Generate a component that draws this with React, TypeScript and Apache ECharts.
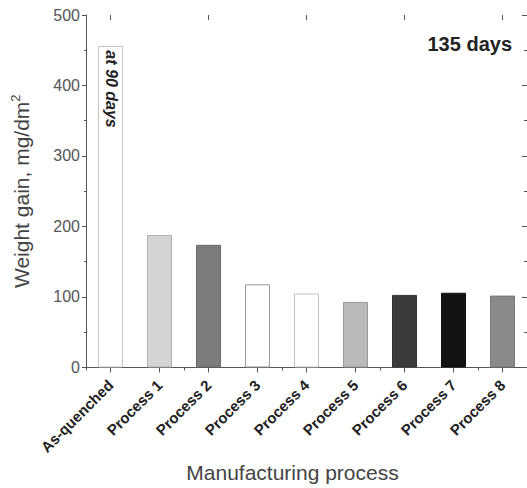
import React, { useEffect, useRef } from "react";
import * as echarts from "echarts";

const categories = [
  "As-quenched",
  "Process 1",
  "Process 2",
  "Process 3",
  "Process 4",
  "Process 5",
  "Process 6",
  "Process 7",
  "Process 8",
];
const weightGain = [456, 188, 174, 118, 105, 93, 103, 106, 102];
const barFill = ["#ffffff", "#d4d4d4", "#7c7c7c", "#ffffff", "#ffffff", "#b9b9b9", "#3b3b3b", "#121212", "#8a8a8a"];
const barBorder = ["#c4c4c4", "#b0b0b0", "#6a6a6a", "#9a9a9a", "#c0c0c0", "#9a9a9a", "#333333", "#101010", "#777777"];
const yTicks = { min: 0, max: 500, interval: 100 };

const FONT = "'Liberation Sans', Arial, sans-serif";
const AXIS = "#555555";

export default function App() {
  const ref = useRef<HTMLDivElement>(null);
  useEffect(() => {
    if (!ref.current) return;
    const chart = echarts.init(ref.current, null, { renderer: "svg" });
    chart.setOption({
      animation: false,
      backgroundColor: "#ffffff",
      textStyle: { fontFamily: FONT },
      grid: { left: 86, top: 15, width: 442, bottom: 118, containLabel: false },
      xAxis: [
        {
          type: "category",
          data: categories,
          position: "bottom",
          name: "Manufacturing process",
          nameLocation: "middle",
          nameGap: 83,
          nameTextStyle: { fontSize: 21, color: "#444", fontFamily: FONT, padding: [0, 28, 0, 0] },
          axisLine: { lineStyle: { color: AXIS, width: 1 } },
          axisTick: { show: true, alignWithLabel: true, inside: false, length: 5, lineStyle: { color: AXIS } },
          axisLabel: {
            rotate: 45,
            margin: 15,
            fontSize: 15,
            fontWeight: "bold",
            color: "#222",
            fontFamily: FONT,
            interval: 0,
          },
          splitLine: { show: false },
        },
        {
          type: "category",
          data: categories,
          position: "top",
          axisLine: { lineStyle: { color: AXIS, width: 1 } },
          axisTick: { show: true, inside: true, length: 3, lineStyle: { color: AXIS } },
          axisLabel: { show: false },
          splitLine: { show: false },
        },
        {
          type: "category",
          data: categories,
          position: "top",
          axisLine: { show: false },
          axisTick: { show: true, alignWithLabel: true, inside: true, length: 5, lineStyle: { color: AXIS } },
          axisLabel: { show: false },
          splitLine: { show: false },
        },
      ],
      yAxis: [
        {
          type: "value",
          position: "left",
          min: yTicks.min,
          max: yTicks.max,
          interval: yTicks.interval,
          name: "Weight gain, mg/dm{sup|2}",
          nameLocation: "middle",
          nameGap: 53,
          nameTextStyle: {
            fontSize: 21,
            color: "#444",
            fontFamily: FONT,
            rich: { sup: { fontSize: 13, color: "#444", fontFamily: FONT, verticalAlign: "top", padding: [0, 0, 11, 0] } },
          },
          axisLine: { show: true, lineStyle: { color: AXIS, width: 1 } },
          axisTick: { show: true, inside: false, length: 4, lineStyle: { color: AXIS } },
          minorTick: { show: true, splitNumber: 2, length: 2, lineStyle: { color: AXIS } },
          axisLabel: { fontSize: 16, color: "#555", margin: 6, fontFamily: FONT },
          splitLine: { show: false },
        },
        {
          type: "value",
          position: "right",
          min: yTicks.min,
          max: yTicks.max,
          interval: yTicks.interval,
          axisLine: { show: true, lineStyle: { color: AXIS, width: 1 } },
          axisTick: { show: true, inside: true, length: 5, lineStyle: { color: AXIS } },
          minorTick: { show: true, splitNumber: 2, length: 3, lineStyle: { color: AXIS } },
          axisLabel: { show: false },
          splitLine: { show: false },
        },
      ],
      series: [
        {
          type: "bar",
          xAxisIndex: 0,
          yAxisIndex: 0,
          barWidth: 25,
          data: weightGain.map((v, i) => ({
            value: v,
            itemStyle: { color: barFill[i], borderColor: barBorder[i], borderWidth: 1 },
          })),
        },
      ],
      graphic: [
        {
          type: "text",
          right: 15,
          top: 34,
          z: 100,
          style: { text: "135 days", font: `bold 20px ${FONT}`, fill: "#222" },
        },
        {
          type: "text",
          x: 111,
          y: 89,
          z: 100,
          rotation: -Math.PI / 2,
          style: {
            text: "at 90 days",
            font: `italic bold 16px ${FONT}`,
            fill: "#222",
            align: "center",
            verticalAlign: "middle",
          },
        },
      ],
    });
    return () => chart.dispose();
  }, []);
  return (
    <div
      ref={ref}
      style={{ position: "fixed", left: 0, top: 0, width: 527, height: 488, background: "#fff" }}
    />
  );
}
